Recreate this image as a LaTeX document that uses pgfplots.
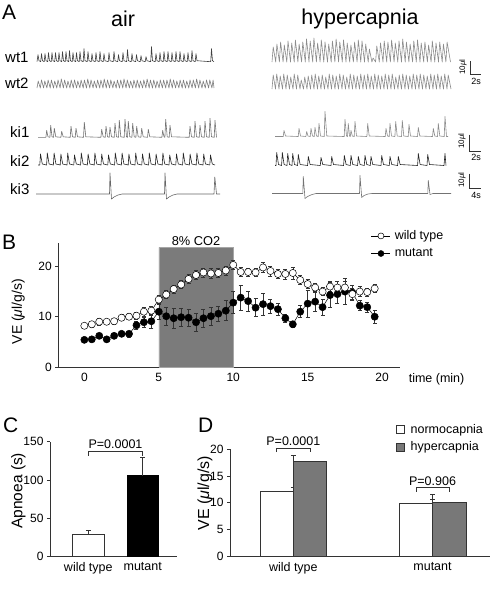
\documentclass[border=0pt]{standalone}
\usepackage{fontspec}
\setmainfont{Liberation Sans}
\usepackage{pgfplots}
\pgfplotsset{compat=1.18}
\usepackage{pgfplotstable}
\definecolor{bargray}{HTML}{787878}
\definecolor{shade}{HTML}{7B7B7B}
\definecolor{axgray}{HTML}{333333}
\newcommand\fs[1]{\fontsize{#1}{#1}\selectfont}
\pgfplotsset{
  every axis/.append style={/pgf/number format/assume math mode=true},
  trace/.style={no marks, line width=0.6pt, line join=round},
  panel/.style={scale only axis, axis x line*=bottom, axis y line*=left,
    axis line style={-, draw=axgray, line width=0.8pt},
    tick style={draw=axgray, line width=0.6pt}, tick align=outside,
    major tick length=3pt, xtick style={draw=none},
    tick label style={font=\fs{12}}, clip=false},
}
\pgfplotstableread{
t v e
0 8.2 0.5
0.5 8.5 0.5
1 9.0 0.6
1.5 9.0 0.5
2 9.1 0.6
2.5 9.8 0.6
3 10.0 0.6
3.5 10.2 0.7
4 11.0 0.9
4.5 11.2 0.9
5 13.4 0.8
5.5 14.4 0.8
6 15.5 0.8
6.5 16.4 0.8
7 17.5 0.9
7.5 18.3 0.9
8 18.8 0.9
8.5 18.6 1.0
9 18.7 0.9
9.5 19.2 0.9
10 20.3 0.9
10.5 18.9 0.9
11 18.9 0.8
11.5 18.8 0.8
12 19.8 1.0
12.5 19.1 1.0
13 18.5 0.9
13.5 18.5 1.0
14 18.7 1.2
14.5 17.3 0.9
15 16.5 0.9
15.5 15.8 0.9
16 15.0 0.8
16.5 16.0 1.0
17 15.8 1.3
17.5 15.8 1.2
18 14.5 1.1
18.5 15.0 1.0
19 14.9 0.8
19.5 15.6 0.8
}\wildtype
\pgfplotstableread{
t v e
0 5.4 0.5
0.5 5.5 0.4
1 6.2 0.5
1.5 5.5 0.4
2 6.2 0.5
2.5 6.6 0.5
3 6.6 0.6
3.5 8.3 0.8
4 8.9 1.0
4.5 9.1 1.3
5 11.0 1.5
5.5 10.1 1.8
6 9.7 2.0
6.5 9.9 1.7
7 9.8 1.6
7.5 8.9 1.7
8 9.7 1.8
8.5 10.1 1.7
9 10.6 1.5
9.5 11.2 2.0
10 12.8 2.2
10.5 13.8 2.5
11 13.1 2.0
11.5 11.8 1.8
12 12.5 2.2
12.5 12.1 1.4
13 11.5 1.2
13.5 9.7 0.7
14 8.5 0.6
14.5 11.0 1.2
15 12.6 2.7
15.5 13.0 2.0
16 11.9 1.6
16.5 14.3 2.5
17 14.5 1.8
17.5 15.0 2.6
18 14.8 1.5
18.5 12.2 1.0
19 11.9 1.0
19.5 10.0 1.2
}\mutant
\begin{document}
\begin{tikzpicture}[x=1pt,y=1pt]
\path[use as bounding box] (0pt,0pt) rectangle (490pt,-598pt);

% ---------------- Panel A: traces (pixel units) ----------------
\begin{axis}[at={(0pt,0pt)}, anchor=north west, scale only axis, width=490pt, height=210pt,
  xmin=0, xmax=490, ymin=0, ymax=210, y dir=reverse, hide axis, clip=false]
% wt1 air
\addplot[trace, black!75] table[row sep=\\, header=false, x index=0, y expr=61.7-(\thisrowno{1})] {37 0\\38 7\\39 1\\40.7 0\\41.5 8\\42.5 1\\44.2 0\\45 8\\46 1\\47.7 0\\48.5 9\\49.5 1\\51.2 0\\52 9\\53 1\\54.7 0\\55.5 9\\56.5 1\\58.2 0\\59 9\\60 1\\61.7 0\\62.5 10\\63.5 1\\65.2 0\\66 10\\67 1\\68.7 0\\69.5 11\\70.5 1\\72.2 0\\73 9\\74 1\\75.7 0\\76.5 9\\77.5 1\\79.2 0\\80 10\\81 1\\83.2 0\\84 13\\85 1\\87.2 0\\88 10\\89 1\\91.2 0\\92 8\\93 1\\95.2 0\\96 9\\97 1\\99.2 0\\100 10\\101 1\\103.2 0\\104 8\\105 1\\108.2 0\\109 9\\110 1\\113.2 0\\114 10\\115 1\\117.7 0\\118.5 7\\119.5 1\\122.2 0\\123 9\\124 1\\126.7 0\\127.5 12\\128.5 1\\131.2 0\\132 8\\133 1\\135.7 0\\136.5 7\\137.5 1\\140.2 0\\141 6\\142 1\\145.2 0\\146 5\\147 1\\150.7 0\\151.5 15\\152.5 1\\155.2 0\\156 8\\157 1\\159.2 0\\160 9\\161 1\\163.2 0\\164 10\\165 1\\167.2 0\\168 10\\169 1\\171.2 0\\172 9\\173 1\\175.2 0\\176 10\\177 1\\179.2 0\\180 10\\181 1\\183.2 0\\184 8\\185 1\\187.2 0\\188 9\\189 1\\191.2 0\\192 11\\193 1\\195.2 0\\196 8\\197 1\\210.7 0\\211.5 13\\212.5 1\\214 0\\};
% wt2 air
\addplot[trace, black!50] table[row sep=\\, header=false, x index=0, y expr=88-(\thisrowno{1})] {37 0\\38.2 7\\40.3 0\\41.5 8\\43.6 0\\44.8 7\\46.9 0\\48.1 8\\50.2 0\\51.4 8\\53.5 0\\54.7 7\\56.8 0\\58 8\\60.1 0\\61.3 9\\63.4 0\\64.6 8\\66.7 0\\67.9 7\\70 0\\71.2 8\\73.3 0\\74.5 8\\76.6 0\\77.8 7\\79.9 0\\81.1 8\\83.2 0\\84.4 8\\86.5 0\\87.7 9\\89.8 0\\91 8\\93.1 0\\94.3 7\\96.4 0\\97.6 8\\99.7 0\\100.9 8\\103 0\\104.2 9\\106.3 0\\107.5 8\\109.6 0\\110.8 8\\112.9 0\\114.1 7\\116.2 0\\117.4 8\\119.5 0\\120.7 8\\122.8 0\\124 9\\126.1 0\\127.3 8\\129.4 0\\130.6 7\\132.7 0\\133.9 8\\136 0\\137.2 8\\139.3 0\\140.5 7\\142.6 0\\143.8 8\\145.9 0\\147.1 9\\149.2 0\\150.4 8\\152.5 0\\153.7 8\\155.8 0\\157 7\\159.1 0\\160.3 8\\162.4 0\\163.6 8\\165.7 0\\166.9 8\\169 0\\170.2 9\\172.3 0\\173.5 8\\175.6 0\\176.8 7\\178.9 0\\180.1 8\\182.2 0\\183.4 8\\185.5 0\\186.7 7\\188.8 0\\190 8\\192.1 0\\193.3 8\\195.4 0\\196.6 9\\198.7 0\\199.9 8\\202 0\\203.2 7\\205.3 0\\206.5 8\\208.6 0\\209.8 8\\211.9 0\\213.1 8\\214 0\\};
% wt1 hypercapnia
\addplot[trace, black!45] table[row sep=\\, header=false, x index=0, y expr=62-(\thisrowno{1})] {272 0\\273.2 15\\275.7 0\\276.9 18\\279.4 0\\280.6 20\\283.1 0\\284.3 17\\286.8 0\\288 21\\290.5 0\\291.7 19\\294.2 0\\295.4 22\\297.9 0\\299.1 18\\301.6 0\\302.8 20\\305.3 0\\306.5 23\\309 0\\310.2 21\\312.7 0\\313.9 24\\316.4 0\\317.6 19\\320.1 0\\321.3 22\\323.8 0\\325 20\\327.5 0\\328.7 18\\331.2 0\\332.4 21\\334.9 0\\336.1 23\\338.6 0\\339.8 20\\342.3 0\\343.5 22\\346 0\\347.2 19\\349.7 0\\350.9 17\\353.4 0\\354.6 20\\357.1 0\\358.3 22\\360.8 0\\362 21\\364.5 0\\365.7 18\\368.2 0\\369.4 13\\371.9 0\\373.1 4\\375.6 0\\376.8 16\\379.3 0\\380.5 19\\383 0\\384.2 21\\386.7 0\\387.9 20\\390.4 0\\391.6 22\\394.1 0\\395.3 19\\397.8 0\\399 21\\401.5 0\\402.7 23\\405.2 0\\406.4 20\\408.9 0\\410.1 18\\412.6 0\\413.8 21\\416.3 0\\417.5 22\\420 0\\421.2 19\\423.7 0\\424.9 20\\427.4 0\\428.6 17\\431.1 0\\432.3 21\\434.8 0\\436 19\\438.5 0\\439.7 20\\442.2 0\\443.4 18\\445.9 0\\447.1 20\\450.5 0\\};
% wt2 hypercapnia
\addplot[trace, black!45] table[row sep=\\, header=false, x index=0, y expr=89-(\thisrowno{1})] {272 0\\273.2 14\\275.5 0\\276.7 15\\279 0\\280.2 13\\282.5 0\\283.7 15\\286 0\\287.2 14\\289.5 0\\290.7 12\\293 0\\294.2 15\\296.5 0\\297.7 14\\300 0\\301.2 9\\303.5 0\\304.7 12\\307 0\\308.2 13\\310.5 0\\311.7 14\\314 0\\315.2 15\\317.5 0\\318.7 13\\321 0\\322.2 14\\324.5 0\\325.7 12\\328 0\\329.2 15\\331.5 0\\332.7 14\\335 0\\336.2 13\\338.5 0\\339.7 15\\342 0\\343.2 14\\345.5 0\\346.7 12\\349 0\\350.2 15\\352.5 0\\353.7 14\\356 0\\357.2 13\\359.5 0\\360.7 15\\363 0\\364.2 14\\366.5 0\\367.7 15\\370 0\\371.2 13\\373.5 0\\374.7 15\\377 0\\378.2 14\\380.5 0\\381.7 13\\384 0\\385.2 15\\387.5 0\\388.7 14\\391 0\\392.2 15\\394.5 0\\395.7 12\\398 0\\399.2 14\\401.5 0\\402.7 15\\405 0\\406.2 14\\408.5 0\\409.7 13\\412 0\\413.2 15\\415.5 0\\416.7 14\\419 0\\420.2 15\\422.5 0\\423.7 14\\426 0\\427.2 13\\429.5 0\\430.7 15\\433 0\\434.2 14\\436.5 0\\437.7 15\\440 0\\441.2 13\\443.5 0\\444.7 15\\447 0\\448.2 14\\451 0\\};
% ki1 air
\addplot[trace, black!55] table[row sep=\\, header=false, x index=0, y expr=137.3-(\thisrowno{1})] {38 0\\45.9 0\\46.7 7\\48 0.5\\49.9 0\\50.7 12\\52 0.5\\53.5 0\\54.3 9\\55.8 0.5\\60.9 0\\61.7 6\\63.2 0.5\\70.2 0\\71 11\\72.5 0.5\\75.2 0\\76 9\\77.5 0.5\\83.5 0\\84.3 15\\85.8 0.5\\100.9 0\\101.7 8\\103.2 0.5\\105.2 0\\106 11\\107.5 0.5\\109.2 0\\110 10\\111.5 0.5\\114.2 0\\115 14\\116.5 0.5\\118.5 0\\119.3 17\\120.8 0.5\\124.2 0\\125 18\\126.5 0.5\\127.5 0\\128.3 16\\129.8 0.5\\131.9 0\\132.7 14\\134.2 0.5\\135.9 0\\136.7 11\\138.2 0.5\\140.9 0\\141.7 9\\143.2 0.5\\147.5 0\\148.3 8\\149.8 0.5\\161.9 0\\162.7 7\\164 0.5\\164.9 0\\165.7 18\\167.2 0.5\\169.2 0\\170 12\\171.5 0.5\\189.2 0\\190 11\\191.5 0.5\\194.2 0\\195 16\\196.5 0.5\\199.2 0\\200 12\\201.5 0.5\\204.2 0\\205 16\\206.5 0.5\\209.2 0\\210 19\\211.5 0.5\\214.2 0\\215 17\\216.5 0\\};
% ki2 air
\addplot[trace, black!85] table[row sep=\\, header=false, x index=0, y expr=165-(\thisrowno{1})] {38 0\\39.8 0\\40.5 11\\42.3 1\\46.6 0\\47.3 12\\49.1 1\\53.4 0\\54.1 12\\55.9 1\\60.2 0\\60.9 11\\62.7 1\\67 0\\67.7 12\\69.5 1\\73.8 0\\74.5 10\\76.3 1\\80.6 0\\81.3 12\\83.1 1\\87.4 0\\88.1 11\\89.9 1\\94.2 0\\94.9 12\\96.7 1\\101 0\\101.7 11\\103.5 1\\107.8 0\\108.5 10\\110.3 1\\114.6 0\\115.3 12\\117.1 1\\121.4 0\\122.1 12\\123.9 1\\128.2 0\\128.9 11\\130.7 1\\135 0\\135.7 12\\137.5 1\\141.8 0\\142.5 11\\144.3 1\\148.6 0\\149.3 12\\151.1 1\\155.4 0\\156.1 11\\157.9 1\\162.2 0\\162.9 12\\164.7 1\\169 0\\169.7 10\\171.5 1\\175.8 0\\176.5 11\\178.3 1\\182.6 0\\183.3 12\\185.1 1\\189.4 0\\190.1 11\\191.9 1\\196.2 0\\196.9 12\\198.7 1\\203 0\\203.7 11\\205.5 1\\209.8 0\\210.5 10\\212.3 1\\215 0\\};
% ki3 air
\addplot[trace, black!60] table[row sep=\\, header=false, x index=0, y expr=194-(\thisrowno{1})] {36 0\\109.5 0\\110 21\\111.5 -5\\114 -3\\118 -1\\122 0\\164.5 0\\165 21\\166.5 -5\\169 -3\\173 -1\\177 0\\214 0\\214.8 17\\216.5 0\\220 0\\};
% ki1 hypercapnia
\addplot[trace, black!45] table[row sep=\\, header=false, x index=0, y expr=136.5-(\thisrowno{1})] {275 0\\283.2 0\\284 6\\285.5 0.5\\298.2 0\\299 8\\300.5 0.5\\305.9 0\\306.7 5\\308 0.5\\310.2 0\\311 8\\312.5 0.5\\314.2 0\\315 9\\316.5 0.5\\318.2 0\\319 13\\320.5 0.5\\324.2 0\\325 25\\326.8 0.5\\344.2 0\\345 17\\346.5 0.5\\347.5 0\\348.3 13\\349.5 0.5\\350.3 0\\351 6\\352.3 0.5\\354.2 0\\355 15\\356.5 0.5\\366.9 0\\367.7 13\\369.2 0.5\\385.2 0\\386 8\\387.5 0.5\\389.2 0\\390 13\\391.5 0.5\\394.9 0\\395.7 15\\397.2 0.5\\401.5 0\\402.3 16\\403.8 0.5\\408.2 0\\409 12\\410.5 0.5\\417.5 0\\418.3 9\\419.8 0.5\\432.5 0\\433.3 8\\434.8 0.5\\437.5 0\\438.3 13\\439.8 0.5\\444.2 0\\445 20\\446.5 0\\448 0\\};
% ki2 hypercapnia
\addplot[trace, black!85] table[row sep=\\, header=false, x index=0, y expr=165.5-(\thisrowno{1})] {275 0\\276 0\\276.7 13\\278.5 1\\281.6 0\\282.3 13\\284.1 1\\287 0\\287.7 12\\289.5 1\\292 0\\292.7 12\\294.5 1\\297.6 0\\298.3 11\\300.1 1\\307.6 0\\308.3 9\\310.1 1\\320.3 0\\321 8\\322.8 1\\331 0\\331.7 9\\333.5 1\\343.6 0\\344.3 10\\346.1 1\\350.3 0\\351 10\\352.8 1\\357.6 0\\358.3 9\\360.1 1\\364.3 0\\365 10\\366.8 1\\370.3 0\\371 9\\372.8 1\\381 0\\381.7 10\\383.5 1\\389.3 0\\390 9\\391.8 1\\397.6 0\\398.3 9\\400.1 1\\417.6 0\\418.3 12\\420.1 1\\427 0\\427.7 11\\429.5 1\\444 0\\445 12\\446 0\\};
% ki3 hypercapnia
\addplot[trace, black!55] table[row sep=\\, header=false, x index=0, y expr=193.5-(\thisrowno{1})] {272 0\\302.8 0\\303.3 17\\305 -5\\307.5 -3\\312 -1\\316 0\\359.5 0\\360 18\\361.7 -4\\364 -2\\368 -0.5\\372 0\\427.8 0\\428.3 13\\430 -1\\433 0\\451 0\\};
% scale bars
\addplot[black!80, line width=0.7pt, no marks] coordinates {(470,61) (470,74.5) (481,74.5)};
\addplot[black!80, line width=0.7pt, no marks] coordinates {(469,134.5) (469,151) (481,151)};
\addplot[black!80, line width=0.7pt, no marks] coordinates {(469,173.5) (469,188.5) (481,188.5)};
\node[rotate=90, font=\fs{8}, inner sep=0] at (axis cs:463,67) {10{\itshape μ}l};
\node[font=\fs{9}, inner sep=0] at (axis cs:476,81) {2s};
\node[rotate=90, font=\fs{8}, inner sep=0] at (axis cs:462,141) {10{\itshape μ}l};
\node[font=\fs{9}, inner sep=0] at (axis cs:476,157.5) {2s};
\node[rotate=90, font=\fs{8}, inner sep=0] at (axis cs:462,180) {10{\itshape μ}l};
\node[font=\fs{9}, inner sep=0] at (axis cs:476,195) {4s};
% labels
\node[font=\fs{21.5}] at (axis cs:123,19) {air};
\node[font=\fs{21.5}] at (axis cs:360,19) {hypercapnia};
\node[anchor=west, font=\fs{15}, inner sep=0] at (axis cs:5,57) {wt1};
\node[anchor=west, font=\fs{15}, inner sep=0] at (axis cs:5,83) {wt2};
\node[anchor=west, font=\fs{15}, inner sep=0] at (axis cs:10,132) {ki1};
\node[anchor=west, font=\fs{15}, inner sep=0] at (axis cs:10,161) {ki2};
\node[anchor=west, font=\fs{15}, inner sep=0] at (axis cs:10,189) {ki3};
\end{axis}
\node[anchor=north west, inner sep=0, font=\fs{21}] at (2pt,-5pt) {A};

% ---------------- Panel B ----------------
\node[anchor=north west, inner sep=0, font=\fs{21}] at (2pt,-235pt) {B};
\begin{axis}[panel, at={(58.3pt,-367pt)}, anchor=south west, width=341.7pt, height=123.7pt,
  xmin=-1.75, xmax=21.2, ymin=0, ymax=24.6,
  xtick={0,5,10,15,20}, ytick={0,10,20},
  ylabel={VE ({\itshape μ}l/g/s)},
  ylabel style={font=\fs{14}, at={(axis description cs:-0.117,0.447)}, anchor=center},
  xlabel={time (min)},
  xlabel style={font=\fs{12.5}, at={(axis description cs:1.107,-0.1)}, anchor=center},
  reverse legend, legend cell align=left,
  legend style={at={(axis description cs:0.915,1.12)}, anchor=north west, draw=none, fill=none,
    font=\fs{12.5}, row sep=3.5pt, inner sep=0pt, column sep=2pt}]
\addplot[fill=shade, draw=black!35, line width=0.6pt, forget plot] coordinates {(5,0) (5,23.8) (10,23.8) (10,0)} \closedcycle;
\node[font=\fs{12.8}, anchor=south, inner sep=1.5pt] at (axis cs:7.5,23.8) {8\% CO2};
\addplot[black, line width=0.5pt, mark=*, mark size=3.6pt, mark options={fill=black, line width=0.5pt},
  legend image code/.code={\draw[black, line width=0.6pt] (0pt,0pt) -- (19pt,0pt); \fill[black] (9.5pt,0pt) circle (3pt);},
  error bars/.cd, y dir=both, y explicit, error bar style={line width=0.5pt, black!80},
  error mark options={rotate=90, mark size=2pt, line width=0.5pt, black!80}]
  table[x=t, y=v, y error=e] {\mutant};
\addlegendentry{mutant}
\addplot[black, line width=0.5pt, mark=*, mark size=3.6pt, mark options={fill=white, line width=0.5pt},
  legend image code/.code={\draw[black, line width=0.6pt] (0pt,0pt) -- (19pt,0pt); \filldraw[fill=white, draw=black, line width=0.5pt] (9.5pt,0pt) circle (3pt);},
  error bars/.cd, y dir=both, y explicit, error bar style={line width=0.5pt, black!80},
  error mark options={rotate=90, mark size=2pt, line width=0.5pt, black!80}]
  table[x=t, y=v, y error=e] {\wildtype};
\addlegendentry{wild type}
\end{axis}

% ---------------- Panel C ----------------
\node[anchor=north west, inner sep=0, font=\fs{21}] at (3pt,-418pt) {C};
\begin{axis}[panel, at={(50pt,-556.3pt)}, anchor=south west, width=126.7pt, height=114.6pt,
  xmin=-0.704, xmax=1.625, ymin=0, ymax=150,
  ytick={0,50,100,150}, xtick={0,1}, xticklabels={wild type, mutant},
  xticklabel style={font=\fs{12.5}},
  ylabel={Apnoea (s)},
  ylabel style={font=\fs{15.5}, at={(axis description cs:-0.25,0.572)}, anchor=center}]
\addplot[ybar, bar width=0.59, bar shift=0, fill=white, draw=axgray, line width=0.7pt,
  error bars/.cd, y dir=plus, y explicit, error bar style={line width=0.6pt, axgray},
  error mark options={rotate=90, mark size=2.5pt, line width=0.6pt, axgray}]
  coordinates {(0,29.2) +- (0,4.3)};
\addplot[ybar, bar width=0.58, bar shift=0, fill=black, draw=black, line width=0.7pt,
  error bars/.cd, y dir=plus, y explicit, error bar style={line width=0.6pt, axgray},
  error mark options={rotate=90, mark size=2.5pt, line width=0.6pt, axgray}]
  coordinates {(1,105.5) +- (0,23.5)};
\draw[line width=0.6pt, axgray] (axis cs:0,131.7) -- (axis cs:0,137.8) -- (axis cs:1,137.8) -- (axis cs:1,131.7);
\node[font=\fs{12.5}, anchor=south, inner sep=1.5pt] at (axis cs:0.5,138.3) {P=0.0001};
\end{axis}

% ---------------- Panel D ----------------
\node[anchor=north west, inner sep=0, font=\fs{21}] at (198pt,-418pt) {D};
\begin{axis}[panel, at={(230pt,-556pt)}, anchor=south west, width=260pt, height=106.7pt,
  xmin=-0.455, xmax=1.413, ymin=0, ymax=20,
  ytick={0,5,10,15,20}, xtick={0,1}, xticklabels={wild type, mutant},
  xticklabel style={font=\fs{12.5}},
  ylabel={VE ({\itshape μ}l/g/s)},
  ylabel style={font=\fs{16}, at={(axis description cs:-0.096,0.588)}, anchor=center},
  legend cell align=left,
  legend style={at={(axis description cs:0.638,1.255)}, anchor=north west, draw=none, fill=none,
    font=\fs{12.5}, row sep=3pt, inner sep=0pt, column sep=4pt}]
\addplot[ybar, bar width=0.24, bar shift=-0.12, fill=white, draw=axgray, line width=0.7pt,
  legend image code/.code={\draw[fill=white, draw=axgray, line width=0.6pt] (0pt,-4pt) rectangle (8pt,4pt);},
  error bars/.cd, y dir=plus, y explicit, error bar style={line width=0.6pt, axgray},
  error mark options={rotate=90, mark size=2.5pt, line width=0.6pt, axgray}]
  coordinates {(0,12.2) +- (0,0.7) (1,9.9) +- (0,0.8)};
\addlegendentry{normocapnia}
\addplot[ybar, bar width=0.24, bar shift=0.12, fill=bargray, draw=axgray, line width=0.7pt,
  legend image code/.code={\draw[fill=bargray, draw=axgray, line width=0.6pt] (0pt,-4pt) rectangle (8pt,4pt);},
  error bars/.cd, y dir=plus, y explicit, error bar style={line width=0.6pt, axgray},
  error mark options={rotate=90, mark size=2.5pt, line width=0.6pt, axgray}]
  coordinates {(0,17.7) +- (0,1.1) (1,10.1) +- (0,1.5)};
\addlegendentry{hypercapnia}
\draw[line width=0.6pt, axgray] (axis cs:-0.12,19.45) -- (axis cs:-0.12,20.2) -- (axis cs:0.12,20.2) -- (axis cs:0.12,19.45);
\node[font=\fs{12.5}, anchor=south, inner sep=1.5pt] at (axis cs:0,20.3) {P=0.0001};
\draw[line width=0.6pt, axgray] (axis cs:0.88,12.06) -- (axis cs:0.88,12.8) -- (axis cs:1.12,12.8) -- (axis cs:1.12,12.06);
\node[font=\fs{12.5}, anchor=south, inner sep=1.5pt] at (axis cs:1,12.9) {P=0.906};
\end{axis}
\end{tikzpicture}
\end{document}
